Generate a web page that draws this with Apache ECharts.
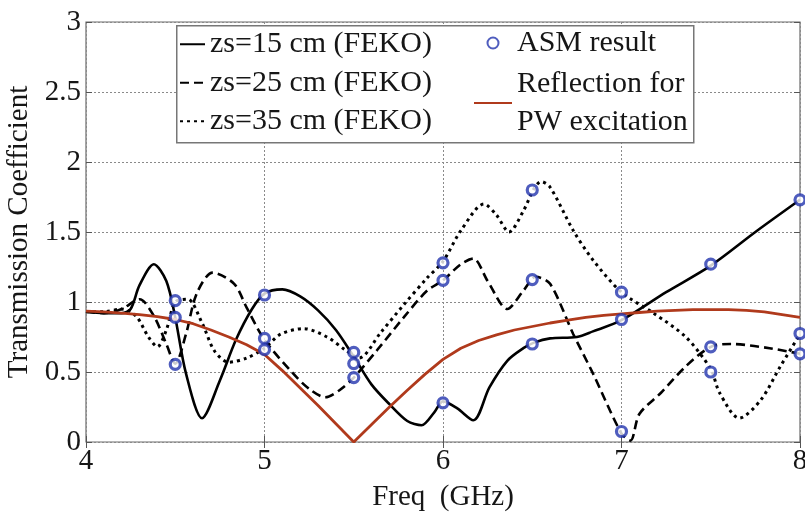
<!DOCTYPE html>
<html><head><meta charset="utf-8">
<script src="https://cdn.jsdelivr.net/npm/echarts@6/dist/echarts.min.js"></script>
<style>html,body{margin:0;padding:0;background:#fff}#c{width:805px;height:513px}</style>
</head><body><div id="c"></div>
<script>
const xTicks = [4, 5, 6, 7, 8];
const yTicks = [0, 0.5, 1, 1.5, 2, 2.5, 3];

const solidX = [4.0,4.1,4.2,4.25,4.3,4.38,4.45,4.5,4.56,4.65,4.75,4.84,4.93,5.0,5.1,5.2,5.3,5.4,5.5,5.6,5.7,5.8,5.88,5.95,6.0,6.08,6.17,6.26,6.36,6.45,6.51,6.6,6.75,6.84,7.0,7.25,7.5,7.75,8.0];
const solidY = [0.93,0.92,0.92,0.95,1.12,1.27,1.15,0.89,0.49,0.17,0.44,0.73,0.95,1.06,1.09,1.04,0.94,0.8,0.61,0.41,0.27,0.15,0.12,0.21,0.29,0.24,0.155,0.39,0.58,0.67,0.71,0.74,0.75,0.79,0.87,1.07,1.26,1.5,1.73];

const dashedX = [4.0,4.1,4.2,4.3,4.38,4.45,4.5,4.56,4.62,4.71,4.83,4.9,5.0,5.16,5.25,5.34,5.42,5.5,5.63,5.78,5.91,6.0,6.1,6.17,6.25,6.36,6.45,6.52,6.6,6.73,6.84,7.0,7.05,7.1,7.22,7.36,7.5,7.61,7.83,8.0];
const dashedY = [0.93,0.92,0.95,1.02,0.9,0.7,0.56,0.77,1.06,1.21,1.13,0.96,0.73,0.49,0.38,0.32,0.37,0.46,0.655,0.89,1.08,1.155,1.27,1.31,1.15,0.95,1.08,1.18,1.13,0.77,0.49,0.06,0.01,0.2,0.35,0.54,0.68,0.70,0.67,0.63];

const dottedX = [4.0,4.1,4.2,4.28,4.35,4.4,4.45,4.5,4.57,4.65,4.72,4.8,4.9,5.0,5.09,5.22,5.35,5.45,5.53,5.65,5.78,5.91,6.0,6.1,6.23,6.3,6.37,6.45,6.51,6.55,6.6,6.73,6.84,7.0,7.18,7.36,7.5,7.55,7.66,7.78,7.89,8.0];
const dottedY = [0.93,0.93,0.95,0.9,0.75,0.68,0.8,1.0,1.02,0.85,0.65,0.57,0.6,0.67,0.77,0.81,0.75,0.66,0.6,0.78,0.98,1.17,1.29,1.51,1.70,1.62,1.50,1.65,1.81,1.86,1.82,1.51,1.30,1.07,0.92,0.75,0.52,0.35,0.17,0.3,0.54,0.77];

const reflX = [4.0,4.1,4.2,4.3,4.4,4.5,4.6,4.7,4.8,4.9,5.0,5.1,5.2,5.3,5.4,5.5,5.6,5.7,5.8,5.9,6.0,6.1,6.2,6.3,6.4,6.5,6.6,6.7,6.8,6.9,7.0,7.1,7.2,7.3,7.4,7.5,7.6,7.7,7.8,7.9,8.0];
const reflY = [0.935,0.93,0.92,0.91,0.895,0.875,0.845,0.80,0.75,0.695,0.625,0.51,0.385,0.26,0.13,0.0,0.125,0.25,0.37,0.485,0.59,0.67,0.725,0.765,0.80,0.825,0.85,0.87,0.89,0.905,0.915,0.925,0.935,0.94,0.945,0.945,0.945,0.94,0.93,0.91,0.89];

const asmX = [4.5,4.5,4.5, 5,5,5, 5.5,5.5,5.5, 6,6,6, 6.5,6.5,6.5, 7,7,7, 7.5,7.5,7.5, 8,8,8];
const asmY = [1.01,0.89,0.555, 1.05,0.74,0.66, 0.64,0.56,0.46, 1.28,1.155,0.28, 1.80,1.16,0.70, 1.07,0.875,0.075, 1.27,0.68,0.50, 1.73,0.775,0.63];

const names = ['zs=15 cm (FEKO)', 'zs=25 cm (FEKO)', 'zs=35 cm (FEKO)', 'ASM result', 'Reflection for PW excitation'];

const zip = (xs, ys) => xs.map((x, i) => [x, ys[i]]);
const FONT = 'Liberation Serif';
const TXT = '#161616';
const BLUE = '#2334ae';
const RED = '#b03a1c';

const chart = echarts.init(document.getElementById('c'), null, {renderer: 'canvas'});
const axisCommon = {
  type: 'value',
  axisLine: {show: false},
  splitLine: {show: true, lineStyle: {color: '#8a8a8a', type: [2, 2], width: 1}},
  axisTick: {show: true, inside: true, length: 6, lineStyle: {color: '#555'}},
  axisLabel: {fontFamily: FONT, fontSize: 29, color: TXT}
};
chart.setOption({
  animation: false,
  backgroundColor: '#fff',
  grid: {left: 86, right: 5, top: 22, bottom: 71, show: true, borderColor: '#6a6a6a', borderWidth: 1.2,
         containLabel: false, outerBoundsMode: 'none'},
  xAxis: [Object.assign({}, axisCommon, {
    min: 4, max: 8, interval: 1, position: 'bottom',
    axisLabel: Object.assign({}, axisCommon.axisLabel, {margin: 5}),
    name: 'Freq  (GHz)', nameLocation: 'middle', nameGap: 41,
    nameTextStyle: {fontFamily: FONT, fontSize: 29, color: TXT}
  }), {
    type: 'value', min: 4, max: 8, interval: 1, position: 'top',
    axisLine: {show: false}, splitLine: {show: false}, axisLabel: {show: false},
    axisTick: {show: true, inside: true, length: 6, lineStyle: {color: '#555'}}
  }],
  yAxis: [Object.assign({}, axisCommon, {
    min: 0, max: 3, interval: 0.5, position: 'left',
    axisLabel: Object.assign({}, axisCommon.axisLabel, {margin: 5}),
    name: 'Transmission Coefficient', nameLocation: 'middle', nameGap: 48,
    nameTextStyle: {fontFamily: FONT, fontSize: 29, color: TXT}
  }), {
    type: 'value', min: 0, max: 3, interval: 0.5, position: 'right',
    axisLine: {show: false}, splitLine: {show: false}, axisLabel: {show: false},
    axisTick: {show: true, inside: true, length: 6, lineStyle: {color: '#555'}}
  }],
  graphic: [{
    type: 'rect', z: 3, left: 176, top: 25,
    shape: {width: 517, height: 117},
    style: {fill: '#fff', stroke: '#777', lineWidth: 1.5}
  }],
  legend: [{
    orient: 'vertical', left: 179, top: 25, padding: 0, itemGap: 0,
    itemWidth: 25, itemHeight: 10, z: 5,
    itemStyle: {opacity: 0},
    data: names.slice(0, 3),
    textStyle: {fontFamily: FONT, fontSize: 30, color: TXT, lineHeight: 38.5}
  }, {
    orient: 'vertical', left: 473, top: 24, padding: 0, itemGap: 3,
    itemWidth: 38, itemHeight: 11, z: 5,
    data: [{name: names[3]}, {name: names[4], itemStyle: {opacity: 0}}],
    formatter: n => n === names[4] ? 'Reflection for\nPW excitation' : n,
    textStyle: {fontFamily: FONT, fontSize: 30, color: TXT, lineHeight: 38}
  }],
  series: [{
    name: names[0], type: 'line', data: zip(solidX, solidY), symbol: 'none', smooth: 0.3,
    lineStyle: {color: '#000', width: 2.6}, itemStyle: {color: '#000'}, z: 2
  }, {
    name: names[1], type: 'line', data: zip(dashedX, dashedY), symbol: 'none', smooth: 0.3,
    lineStyle: {color: '#000', width: 2.6, type: [9, 5]}, itemStyle: {color: '#000'}, z: 2
  }, {
    name: names[2], type: 'line', data: zip(dottedX, dottedY), symbol: 'none', smooth: 0.3,
    lineStyle: {color: '#000', width: 3, type: [3, 4]}, itemStyle: {color: '#000'}, z: 2
  }, {
    name: names[3], type: 'scatter', data: zip(asmX, asmY), symbol: 'circle', symbolSize: 10,
    symbolKeepAspect: true,
    itemStyle: {color: '#fff', borderColor: BLUE, borderWidth: 3.2}, z: 4
  }, {
    name: names[4], type: 'line', data: zip(reflX, reflY), symbol: 'none', smooth: false,
    lineStyle: {color: RED, width: 2.8}, itemStyle: {color: RED}, z: 3
  }]
});
</script></body></html>
